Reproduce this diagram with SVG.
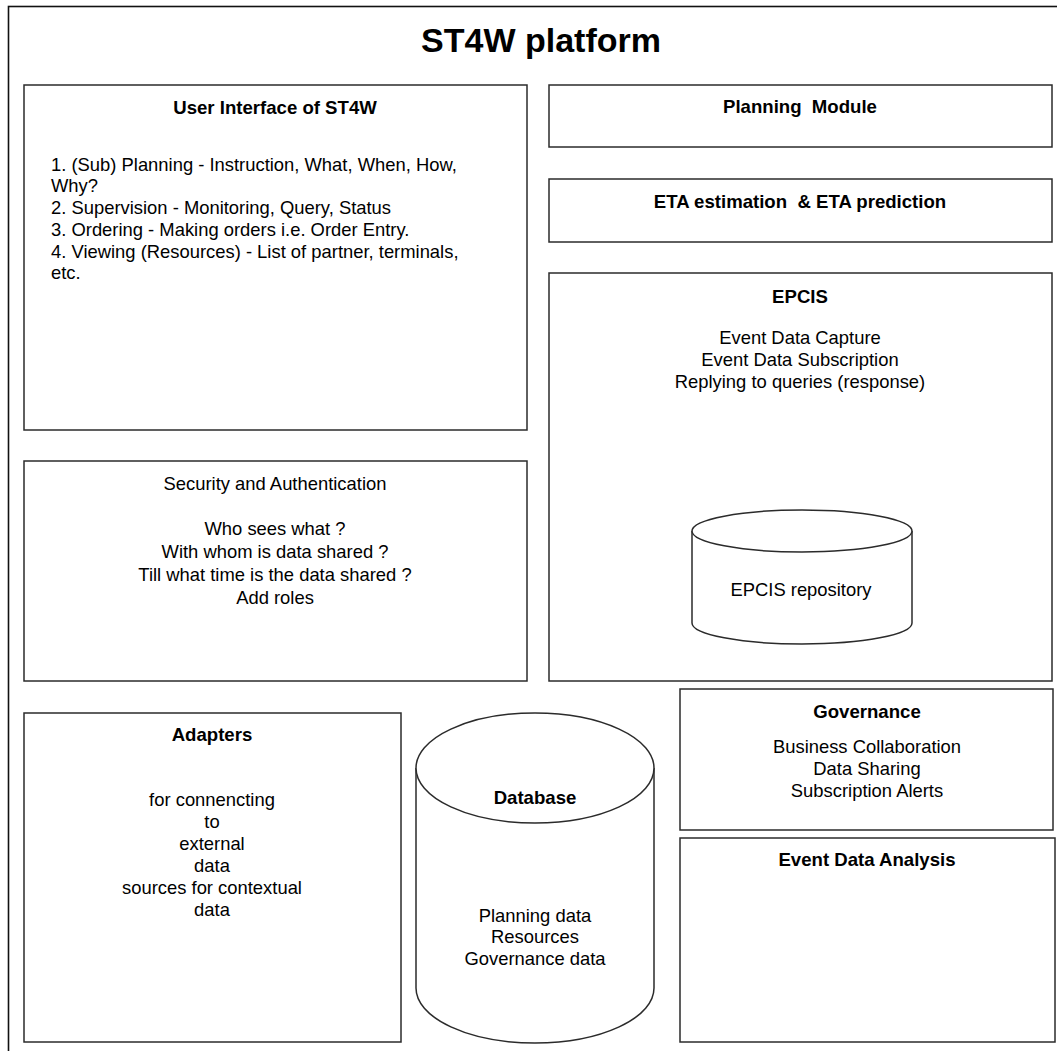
<svg xmlns="http://www.w3.org/2000/svg" width="1057" height="1051" viewBox="0 0 1057 1051">
<style>
.box{fill:#fff;stroke:#2b2b2b;stroke-width:1.5}
.frame{fill:#fff;stroke:#111;stroke-width:1.6}
text{font-family:"Liberation Sans",Arial,Helvetica,sans-serif;font-size:18.4px;fill:#000}
.b{font-weight:bold;font-size:18.6px}
.c{text-anchor:middle}
.pre{white-space:pre}
</style>
<rect width="1057" height="1051" fill="#fff"/>
<g id="platform">
<rect class="frame" x="8.5" y="6.5" width="1070" height="1070"/>
<text class="b c" x="541" y="52" style="font-size:34px">ST4W platform</text>
</g>
<g id="user-interface">
<rect class="box" x="24" y="85" width="503" height="345"/>
<text class="b c" x="275" y="114">User Interface of ST4W</text>
<text x="51" y="171">1. (Sub) Planning - Instruction, What, When, How,</text>
<text x="51" y="192">Why?</text>
<text x="51" y="214">2. Supervision - Monitoring, Query, Status</text>
<text x="51" y="236">3. Ordering - Making orders i.e. Order Entry.</text>
<text x="51" y="258">4. Viewing (Resources) - List of partner, terminals,</text>
<text x="51" y="279">etc.</text>
</g>
<g id="planning-module">
<rect class="box" x="549" y="85" width="503" height="62"/>
<text class="b c pre" x="800" y="113">Planning  Module</text>
</g>
<g id="eta">
<rect class="box" x="549" y="179" width="503" height="63"/>
<text class="b c pre" x="800" y="208">ETA estimation  &amp; ETA prediction</text>
</g>
<g id="epcis">
<rect class="box" x="549" y="273" width="503" height="408"/>
<text class="b c" x="800" y="303">EPCIS</text>
<text class="c" x="800" y="344">Event Data Capture</text>
<text class="c" x="800" y="366">Event Data Subscription</text>
<text class="c" x="800" y="388">Replying to queries (response)</text>
</g>
<g id="epcis-repository">
<path class="box" d="M692,531 A110,21 0 0 1 912,531 V623 A110,21 0 0 1 692,623 Z"/>
<path class="box" fill="none" d="M692,531 A110,21 0 0 0 912,531"/>
<text class="c" x="801" y="596">EPCIS repository</text>
</g>
<g id="security">
<rect class="box" x="24" y="461" width="503" height="220"/>
<text class="c" x="275" y="490">Security and Authentication</text>
<text class="c" x="275" y="535">Who sees what ?</text>
<text class="c" x="275" y="558">With whom is data shared ?</text>
<text class="c" x="275" y="581">Till what time is the data shared ?</text>
<text class="c" x="275" y="604">Add roles</text>
</g>
<g id="adapters">
<rect class="box" x="24" y="713" width="377" height="329"/>
<text class="b c" x="212" y="741">Adapters</text>
<text class="c" x="212" y="806">for connencting</text>
<text class="c" x="212" y="828">to</text>
<text class="c" x="212" y="850">external</text>
<text class="c" x="212" y="872">data</text>
<text class="c" x="212" y="894">sources for contextual</text>
<text class="c" x="212" y="916">data</text>
</g>
<g id="database">
<path class="box" d="M416,768 A119,55 0 0 1 654,768 V988 A119,55 0 0 1 416,988 Z"/>
<path class="box" fill="none" d="M416,768 A119,55 0 0 0 654,768"/>
<text class="b c" x="535" y="804">Database</text>
<text class="c" x="535" y="922">Planning data</text>
<text class="c" x="535" y="943">Resources</text>
<text class="c" x="535" y="965">Governance data</text>
</g>
<g id="governance">
<rect class="box" x="680" y="689" width="373" height="141"/>
<text class="b c" x="867" y="718">Governance</text>
<text class="c" x="867" y="753">Business Collaboration</text>
<text class="c" x="867" y="775">Data Sharing</text>
<text class="c" x="867" y="797">Subscription Alerts</text>
</g>
<g id="event-data-analysis">
<rect class="box" x="680" y="838" width="375" height="204"/>
<text class="b c" x="867" y="866">Event Data Analysis</text>
</g>
<g id="connectors"/>
</svg>
